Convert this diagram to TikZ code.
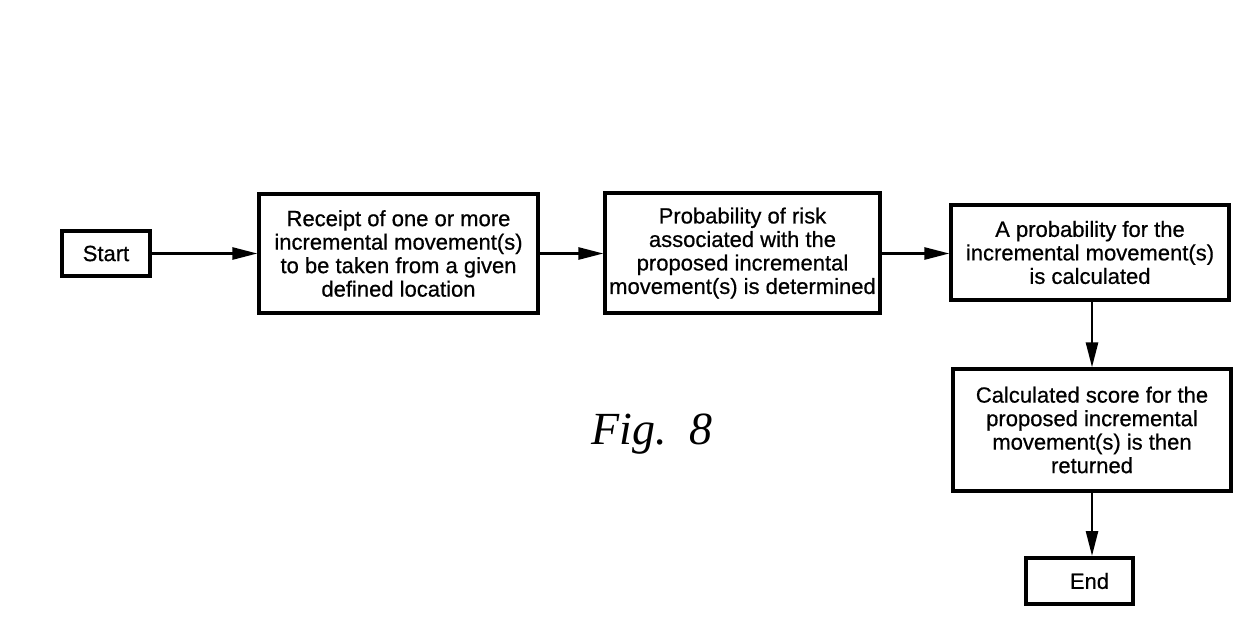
\documentclass[tikz,border=0pt]{standalone}
\usepackage{fontspec}
\setmainfont{Liberation Sans}[FakeBold=0.6]
\usetikzlibrary{arrows.meta}
\begin{document}
\begin{tikzpicture}[x=1pt,y=-1pt,
  boxstyle/.style={draw=black, line width=3.2pt, align=center, inner sep=0pt,
    font=\fontsize{22}{23.5}\selectfont},
  termstyle/.style={boxstyle, line width=4pt},
  conn/.style={line width=2.6pt, -{Triangle[length=25pt,width=12pt]}}]
\useasboundingbox (0,0) rectangle (1249,627);
\fill[white] (0,0) rectangle (1249,627);
\node[termstyle, minimum width=88pt, minimum height=45pt] (start) at (106,253.5) {Start};
\node[boxstyle, minimum width=279pt, minimum height=119pt] (b1) at (398.5,253.5)
  {Receipt of one or more\\incremental movement(s)\\to be taken from a given\\defined location};
\node[boxstyle, minimum width=275pt, minimum height=120pt] (b2) at (742.5,253)
  {Probability of risk\\associated with the\\proposed incremental\\movement(s) is determined};
\node[boxstyle, minimum width=278pt, minimum height=95pt] (b3) at (1090,252.5)
  {A probability for the\\incremental movement(s)\\is calculated};
\node[boxstyle, minimum width=278pt, minimum height=122pt] (b4) at (1092,430)
  {Calculated score for the\\proposed incremental\\movement(s) is then\\returned};
\node[termstyle, minimum width=107pt, minimum height=46pt] (end) at (1079.5,581) {\hspace*{20pt}End};
\node[font=\fontsize{46}{50}\selectfont] (fig) at (652,434) {\fontspec{Liberation Serif}\itshape Fig.\ \ 8};
\draw[conn] (start.east) -- (b1.west |- start.east);
\draw[conn] (b1.east |- start.east) -- (b2.west |- start.east);
\draw[conn] (b2.east |- start.east) -- (b3.west |- start.east);
\draw[conn] (b4.north |- b3.south) -- (b4.north);
\draw[conn] (b4.south) -- (b4.south |- end.north);
\end{tikzpicture}
\end{document}
